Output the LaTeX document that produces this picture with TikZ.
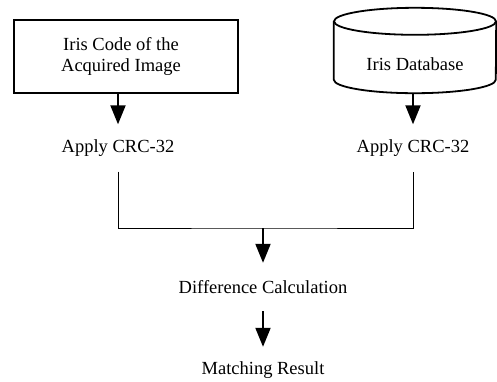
\documentclass[tikz,border=0pt]{standalone}
\usepackage{fontspec}
\setmainfont{Liberation Serif}
\usetikzlibrary{arrows.meta}
\begin{document}
\begin{tikzpicture}[x=1pt,y=-1pt,
  lbl/.style={inner sep=0pt,minimum height=47pt,font=\fontsize{18.5}{22}\selectfont},
  boxst/.style={draw,line width=1.8pt,inner sep=0pt,font=\fontsize{18.5}{22}\selectfont,align=center},
  arr/.style={line width=2pt,-{Triangle[length=19pt,width=15pt]}},
  thin/.style={line width=1pt}]
\useasboundingbox (0,0) rectangle (497,381);
% left box
\node[boxst,minimum width=224pt,minimum height=73pt] (code) at (126,56.5) {\hspace*{-10pt}Iris Code of the\\[-1pt]\hspace*{-10pt}Acquired Image};
% database cylinder body node
\node[inner sep=0pt,minimum width=162pt,minimum height=58pt,font=\fontsize{18.5}{22}\selectfont] (db) at (415,64) {Iris Database};
\draw[line width=1.8pt] ([yshift=13.5pt]db.north) ellipse [x radius=81pt,y radius=13.5pt];
\draw[line width=1.8pt] ([yshift=13.5pt]db.north west) -- ([yshift=13.5pt]db.south west)
  arc[start angle=180,end angle=360,x radius=81pt,y radius=13.5pt]
  -- ([yshift=13.5pt]db.north east);
% labels
\node[lbl] (crc1) at (118,148) {Apply CRC-32};
\node[lbl] (crc2) at (413,148) {Apply CRC-32};
\node[lbl,minimum height=48pt] (diff) at (263,287) {Difference Calculation};
\node[lbl] (match) at (263,370.5) {Matching Result};
\coordinate (j) at (263,228);
% connectors
\draw[arr] (crc1.north |- code.south) -- (crc1.north);
\draw[arr] (crc2.north |- db.south) -- (crc2.north);
\draw[thin] (crc1.south) |- (j) -| (crc2.south);
\draw[arr] (j) -- (diff.north);
\draw[arr] (diff.south) -- (match.north);
\end{tikzpicture}
\end{document}
